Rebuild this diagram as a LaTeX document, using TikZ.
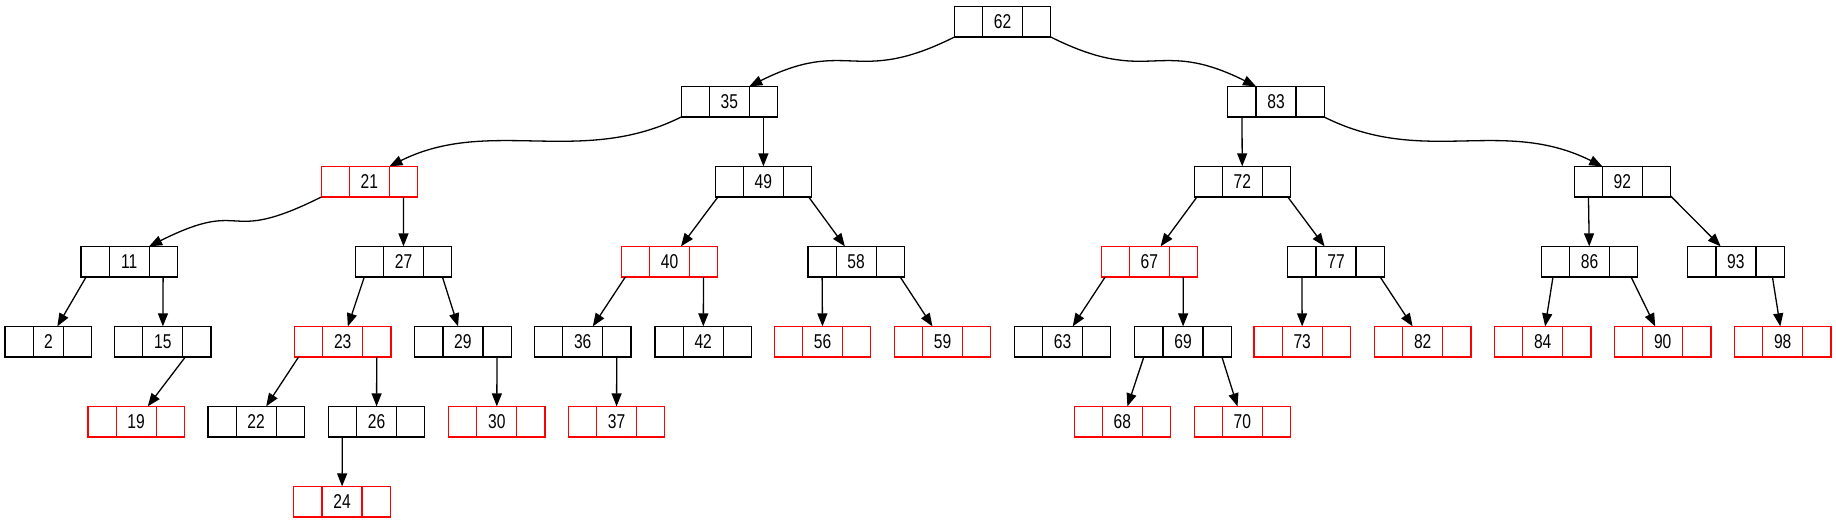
\documentclass[tikz,border=0pt]{standalone}
\usepackage{fontspec}
\setmainfont{Liberation Sans}[FakeStretch=0.78]
\usetikzlibrary{positioning,arrows.meta}

\begin{document}
\begin{tikzpicture}[x=1pt, y=-1pt,
    key/.style={rectangle, draw, minimum width=40pt, minimum height=30.7pt, inner sep=0pt, outer sep=0pt, line width=1.2pt, font=\fontsize{20}{22}\selectfont},
    ptr/.style={rectangle, draw, minimum width=28.2pt, minimum height=30.7pt, inner sep=0pt, outer sep=0pt, line width=1.2pt},
    edge/.style={-{Triangle[length=13pt,width=10pt]}, line width=1.3pt}
]
    \useasboundingbox (0,0) rectangle (1836,523);
    % records: key / x / level / colour / width of key field
    \foreach \n/\x/\l/\c/\w in {
        62/1002.6/0/black/40pt,
        35/729.3/1/black/40pt, 83/1276/1/black/40pt,
        21/369.4/2/red/40pt, 49/763.4/2/black/40pt, 72/1242.3/2/black/40pt, 92/1622.3/2/black/40pt,
        11/129.1/3/black/40pt, 27/403.5/3/black/40pt, 40/669.5/3/red/40pt, 58/856.1/3/black/40pt,
        67/1149.3/3/red/40pt, 77/1336/3/black/40pt, 86/1589.5/3/black/40pt, 93/1735.9/3/black/40pt,
        2/48.4/4/black/30.5pt, 15/162.8/4/black/40pt, 23/342.7/4/red/40pt, 29/462.9/4/black/40pt,
        36/582.7/4/black/40pt, 42/703.2/4/black/40pt, 56/822.6/4/red/40pt, 59/942.5/4/red/40pt,
        63/1062.6/4/black/40pt, 69/1183/4/black/40pt, 73/1302.2/4/red/40pt, 82/1422.7/4/red/40pt,
        84/1542.7/4/red/40pt, 90/1662.7/4/red/40pt, 98/1782.7/4/red/40pt,
        19/136.1/5/red/40pt, 22/256.1/5/black/40pt, 26/376.5/5/black/40pt, 30/496.8/5/red/40pt,
        37/616.5/5/red/40pt, 68/1122.3/5/red/40pt, 70/1242.3/5/red/40pt,
        24/342/6/red/40pt}{
        \node[key, draw=\c, minimum width=\w] (n\n) at (\x, {21.7+80*\l}) {\n};
        \node[ptr, draw=\c, left=0pt of n\n] (l\n) {};
        \node[ptr, draw=\c, right=0pt of n\n] (r\n) {};
    }

    % long links
    \draw[edge] (l62.south west) .. controls +(-100,50) and +(100,-50) .. (n35.north east);
    \draw[edge] (r62.south east) .. controls +(100,50) and +(-100,-50) .. (n83.north west);
    \draw[edge] (l35.south west) .. controls +(-100,50) and +(100,-50) .. (n21.north east);
    \draw[edge] (r83.south east) .. controls +(100,50) and +(-100,-50) .. (n92.north west);
    \draw[edge] (l21.south west) .. controls +(-100,50) and +(100,-50) .. (n11.north east);

    % short links
    \foreach \a/\b in {r35/n49, l83/n72,
        r21/n27, l49/n40, r49/n58, l72/n67, r72/n77, l92/n86, r92/n93,
        l11/n2, r11/n15, l27/n23, r27/n29, l40/n36, r40/n42, l58/n56, r58/n59,
        l67/n63, r67/n69, l77/n73, r77/n82, l86/n84, r86/n90, r93/n98,
        r15/n19, l23/n22, r23/n26, r29/n30, r36/n37, l69/n68, r69/n70,
        l26/n24}
        \draw[edge] (\a) -- (\b);
\end{tikzpicture}
\end{document}
